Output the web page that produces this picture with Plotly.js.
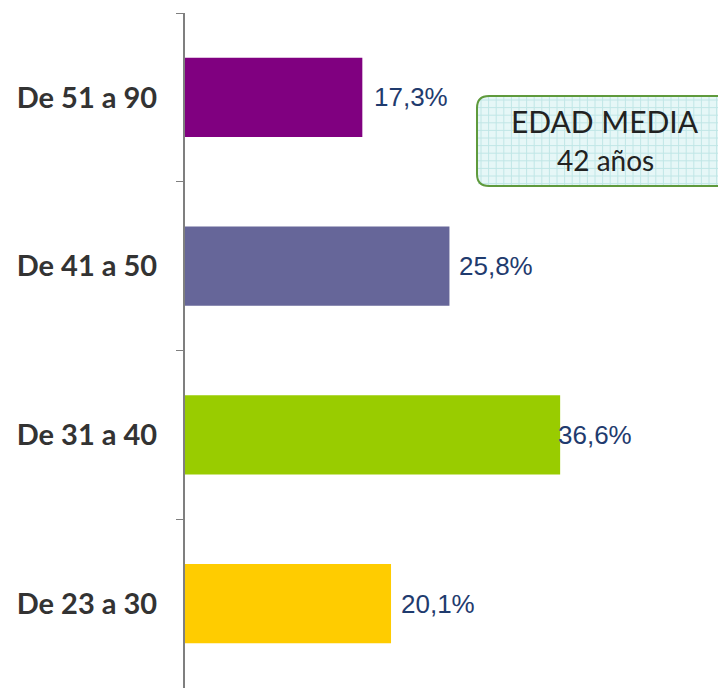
<!DOCTYPE html>
<html>
<head>
<meta charset="utf-8">
<script src="https://cdn.plot.ly/plotly-3.0.1.min.js"></script>
<style>html,body{margin:0;padding:0;background:#fff;}#chart{width:718px;height:688px;}</style>
</head>
<body>
<div id="chart"></div>
<script>
const categories = ["De 23 a 30", "De 31 a 40", "De 41 a 50", "De 51 a 90"];
const values = [20.1, 36.6, 25.8, 17.3];
const valueLabels = ["20,1%", "36,6%", "25,8%", "17,3%"];
const barColors = ["#ffcc00", "#99cc00", "#666699", "#800080"];
const labelShift = [8, -4, 8, 10];
const boxTitle = "EDAD MEDIA";
const boxSub = "42 años";

const trace = {
  type: "bar",
  orientation: "h",
  y: categories,
  x: values,
  marker: {color: barColors, line: {width: 0}},
  hoverinfo: "none"
};

const W = 533, H = 675;
const X = v => (v - 185) / W;
const Y = v => 1 - (v - 13) / H;

function roundedPath(x0, y0, x1, y1, rad) {
  const fx = v => X(v).toFixed(5), fy = v => Y(v).toFixed(5);
  return "M" + fx(x0 + rad) + "," + fy(y0) +
    " L" + fx(x1) + "," + fy(y0) +
    " L" + fx(x1) + "," + fy(y1) +
    " L" + fx(x0 + rad) + "," + fy(y1) +
    " Q" + fx(x0) + "," + fy(y1) + " " + fx(x0) + "," + fy(y1 - rad) +
    " L" + fx(x0) + "," + fy(y0 + rad) +
    " Q" + fx(x0) + "," + fy(y0) + " " + fx(x0 + rad) + "," + fy(y0) + " Z";
}

const shapes = [{
  type: "path", xref: "paper", yref: "paper", layer: "above",
  path: roundedPath(477, 96, 730, 186, 12), fillcolor: "#e6f7f7", line: {width: 0}
}];
for (let gx = 481; gx < 730; gx += 7.6) {
  shapes.push({type: "line", xref: "paper", yref: "paper", layer: "above",
    x0: X(gx), x1: X(gx), y0: Y(185), y1: Y(97),
    line: {color: "#c0e6e6", width: 1}});
}
for (let gy = 100; gy < 186; gy += 7.6) {
  shapes.push({type: "line", xref: "paper", yref: "paper", layer: "above",
    x0: X(478), x1: X(730), y0: Y(gy), y1: Y(gy),
    line: {color: "#c0e6e6", width: 1}});
}
shapes.push({
  type: "path", xref: "paper", yref: "paper", layer: "above",
  path: roundedPath(477, 96, 730, 186, 12), fillcolor: "rgba(0,0,0,0)",
  line: {color: "#5f9a3c", width: 2}
});

const annotations = values.map((v, i) => ({
  x: v, y: categories[i], xref: "x", yref: "y",
  text: valueLabels[i], showarrow: false, xanchor: "left", yanchor: "middle",
  xshift: labelShift[i],
  font: {family: "Liberation Sans, Arial, sans-serif", size: 26, color: "#1f3b6e"}
}));
annotations.push(
  {xref: "paper", yref: "paper", x: X(605), y: Y(121),
   text: boxTitle, showarrow: false, xanchor: "center", yanchor: "middle",
   font: {family: "Lato, sans-serif", size: 30, color: "#222222"}},
  {xref: "paper", yref: "paper", x: X(605), y: Y(160),
   text: boxSub, showarrow: false, xanchor: "center", yanchor: "middle",
   font: {family: "Lato, sans-serif", size: 28, color: "#222222"}}
);

const layout = {
  width: 718, height: 688,
  margin: {l: 185, r: 0, t: 13, b: 0, pad: 0},
  paper_bgcolor: "#ffffff", plot_bgcolor: "#ffffff",
  showlegend: false,
  bargap: 0.53,
  xaxis: {range: [0, 52], visible: false, fixedrange: true},
  yaxis: {
    type: "category", categoryorder: "array", categoryarray: categories,
    range: [-0.5, 3.5],
    showline: true, linecolor: "#7f7f7f", linewidth: 2,
    ticks: "outside", tickson: "boundaries", ticklen: 7, tickcolor: "#7f7f7f", tickwidth: 1,
    ticklabelstandoff: 20,
    tickfont: {family: "Lato, 'DejaVu Sans', sans-serif", size: 29, color: "#333333", weight: "bold"},
    showgrid: false, zeroline: false, fixedrange: true
  },
  shapes: shapes,
  annotations: annotations
};

Plotly.newPlot("chart", [trace], layout, {displayModeBar: false, staticPlot: true});
</script>
</body>
</html>
